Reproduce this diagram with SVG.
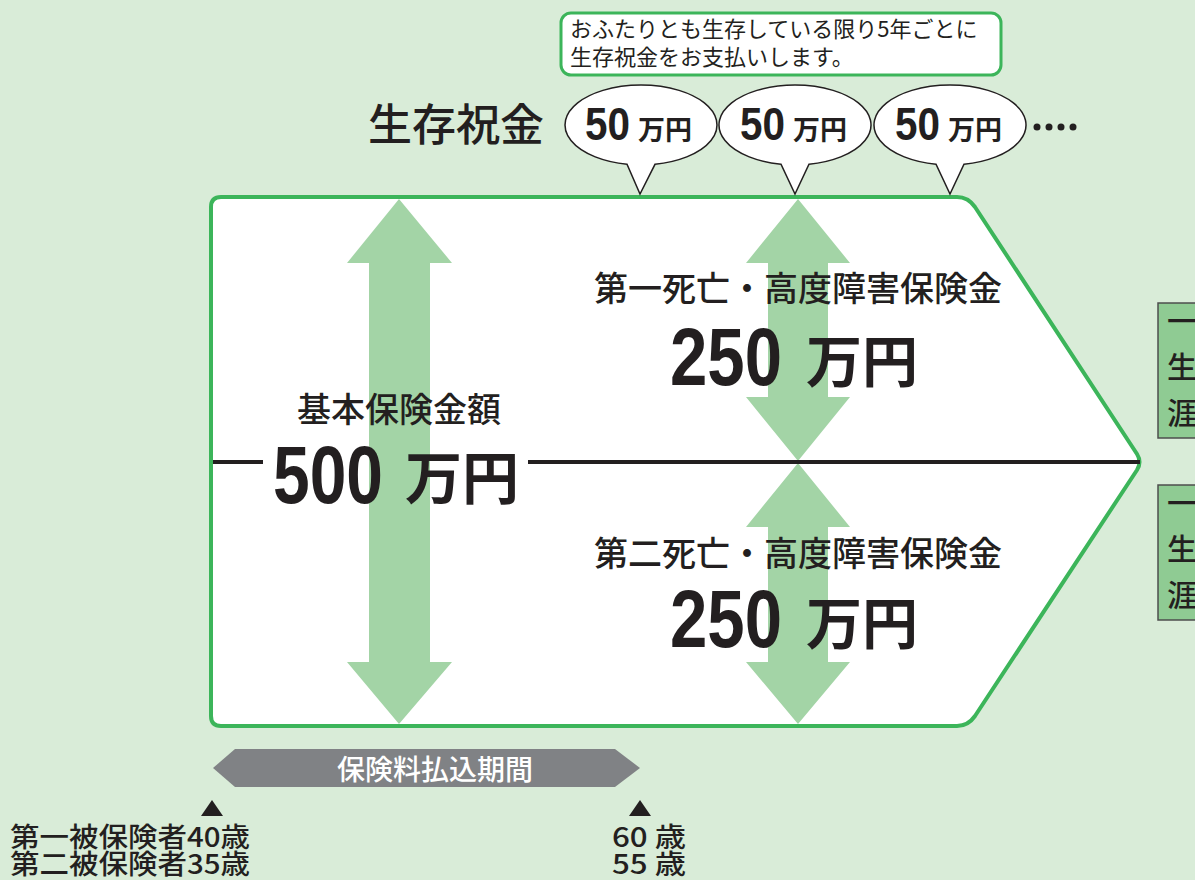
<svg xmlns="http://www.w3.org/2000/svg" width="1195" height="880" viewBox="0 0 1195 880">
<style>
.jp{font-family:"Noto Sans CJK JP","Noto Sans CJK SC",sans-serif;fill:#231f20}
.num{font-family:"Liberation Sans",Arial,sans-serif;font-weight:bold;fill:#231f20}
.arr{fill:#a3d4a6}
.bub{fill:#ffffff;stroke:#231f20;stroke-width:1.5}
</style>
<rect x="0" y="0" width="1195" height="880" fill="#d9ecd8"/>

<g id="callout">
<rect x="561" y="13" width="440" height="62" rx="10" fill="#ffffff" stroke="#3cb55a" stroke-width="3"/>
<text class="jp" x="570" y="37" font-size="22">おふたりとも生存している限り5年ごとに</text>
<text class="jp" x="570" y="65" font-size="22">生存祝金をお支払いします。</text>
</g>

<g id="title">
<text class="jp" x="368" y="141" font-size="44" font-weight="500">生存祝金</text>
</g>

<g id="main-shape">
<path d="M221,197 L957,197 Q968,197 975,207 L1137,454 Q1142,462 1137,470 L975,716 Q968,726 957,726 L221,726 Q211,726 211,716 L211,207 Q211,197 221,197 Z" fill="#ffffff" stroke="#3cb55a" stroke-width="4"/>
</g>

<g id="bubble1">
<path class="bub" d="M627,164.3 A76 40 0 1 1 655,164.3 L640,194 Z"/>
<text class="num" x="585" y="140" font-size="46" textLength="45" lengthAdjust="spacingAndGlyphs">50</text>
<text class="jp" x="638" y="140" font-size="27" font-weight="bold">万円</text>
</g>
<g id="bubble2">
<path class="bub" d="M781,164.3 A76 40 0 1 1 809,164.3 L795,194 Z"/>
<text class="num" x="740" y="140" font-size="46" textLength="45" lengthAdjust="spacingAndGlyphs">50</text>
<text class="jp" x="793" y="140" font-size="27" font-weight="bold">万円</text>
</g>
<g id="bubble3">
<path class="bub" d="M936,164.3 A76 40 0 1 1 964,164.3 L950,194 Z"/>
<text class="num" x="895" y="140" font-size="46" textLength="45" lengthAdjust="spacingAndGlyphs">50</text>
<text class="jp" x="948" y="140" font-size="27" font-weight="bold">万円</text>
</g>
<g id="dots" fill="#231f20">
<circle cx="1037" cy="127" r="3.5"/>
<circle cx="1049" cy="127" r="3.5"/>
<circle cx="1061" cy="127" r="3.5"/>
<circle cx="1073" cy="127" r="3.5"/>
</g>

<g id="arrows">
<polygon class="arr" points="399,199 452,263 430,263 430,662 452,662 399,724 347,662 369,662 369,263 347,263"/>
<polygon class="arr" points="798,199 850,263 828,263 828,397 850,397 798,461 746,397 768,397 768,263 746,263"/>
<polygon class="arr" points="798,463 850,527 828,527 828,662 850,662 798,724 746,662 768,662 768,527 746,527"/>
</g>

<g id="connectors" stroke="#231f20" stroke-width="4">
<line x1="213" y1="462" x2="263" y2="462"/>
<line x1="528" y1="462" x2="1140" y2="462"/>
</g>

<g id="basic">
<text class="jp" x="297" y="422" font-size="34" font-weight="500">基本保険金額</text>
<text class="num" x="273" y="503" font-size="82" textLength="110" lengthAdjust="spacingAndGlyphs">500</text>
<text class="jp" x="405" y="499" font-size="57" font-weight="bold">万円</text>
</g>

<g id="first-death">
<text class="jp" x="594" y="301" font-size="34" font-weight="500">第一死亡・高度障害保険金</text>
<text class="num" x="670" y="385" font-size="82" textLength="112" lengthAdjust="spacingAndGlyphs">250</text>
<text class="jp" x="806" y="382" font-size="56" font-weight="bold">万円</text>
</g>

<g id="second-death">
<text class="jp" x="594" y="566" font-size="34" font-weight="500">第二死亡・高度障害保険金</text>
<text class="num" x="670" y="647" font-size="82" textLength="112" lengthAdjust="spacingAndGlyphs">250</text>
<text class="jp" x="806" y="644" font-size="56" font-weight="bold">万円</text>
</g>

<g id="side-box1">
<rect x="1158" y="303" width="60" height="135" fill="#8fcb93" stroke="#4d4d4d" stroke-width="1.5"/>
<text class="jp" x="1167" y="332" font-size="30" font-weight="500">一</text>
<text class="jp" x="1167" y="378" font-size="30" font-weight="500">生</text>
<text class="jp" x="1167" y="424" font-size="30" font-weight="500">涯</text>
</g>
<g id="side-box2">
<rect x="1158" y="485" width="60" height="135" fill="#8fcb93" stroke="#4d4d4d" stroke-width="1.5"/>
<text class="jp" x="1167" y="514" font-size="30" font-weight="500">一</text>
<text class="jp" x="1167" y="560" font-size="30" font-weight="500">生</text>
<text class="jp" x="1167" y="606" font-size="30" font-weight="500">涯</text>
</g>

<g id="premium-period">
<polygon points="213,768 235,749 615,749 640,768 615,787 235,787" fill="#808285"/>
<text class="jp" x="435" y="780" font-size="28" font-weight="500" text-anchor="middle" style="fill:#ffffff">保険料払込期間</text>
</g>

<g id="start-age">
<polygon points="212,800 223,816 201,816" fill="#231f20"/>
<text class="jp" x="10" y="847" font-size="27" font-weight="500" textLength="240" lengthAdjust="spacingAndGlyphs">第一被保険者40歳</text>
<text class="jp" x="10" y="874" font-size="27" font-weight="500" textLength="240" lengthAdjust="spacingAndGlyphs">第二被保険者35歳</text>
</g>
<g id="end-age">
<polygon points="640,800 651,816 629,816" fill="#231f20"/>
<text class="jp" x="612" y="847" font-size="27" font-weight="500" textLength="74" lengthAdjust="spacingAndGlyphs">60 歳</text>
<text class="jp" x="612" y="874" font-size="27" font-weight="500" textLength="74" lengthAdjust="spacingAndGlyphs">55 歳</text>
</g>
</svg>
